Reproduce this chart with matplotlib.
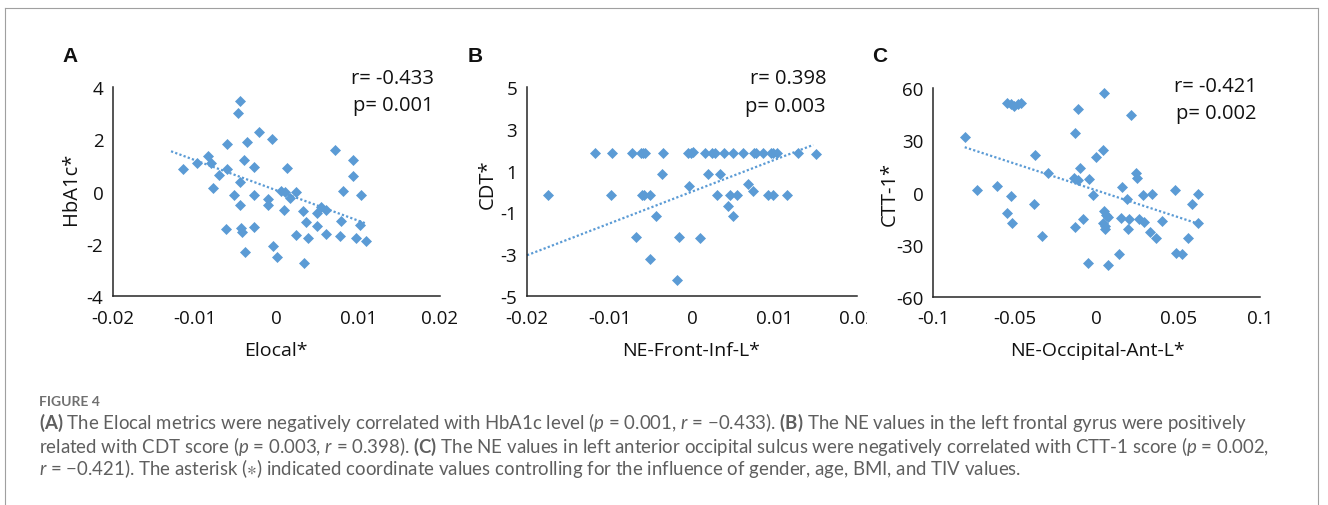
import numpy as np
import matplotlib
matplotlib.use("Agg")
import matplotlib.pyplot as plt
from matplotlib.transforms import Bbox, TransformedBbox

# ---------------- data ----------------
a_x = [-0.0114, -0.0097, -0.0084, -0.0080, -0.0078, -0.0070, -0.0060, -0.0060, -0.0062, -0.0052,
       -0.0045, -0.0047, -0.0045, -0.0045, -0.0044, -0.0042, -0.0040, -0.0038, -0.0036, -0.0028,
       -0.0027, -0.0027, -0.0022, -0.0011, -0.0010, -0.0005, -0.0004, 0.0000, 0.0006, 0.0010,
       0.0009, 0.0013, 0.0016, 0.0024, 0.0024, 0.0033, 0.0034, 0.0036, 0.0039, 0.0049,
       0.0050, 0.0055, 0.0060, 0.0060, 0.0072, 0.0078, 0.0079, 0.0081, 0.0093, 0.0093,
       0.0097, 0.0103, 0.0102, 0.0109]
a_y = [0.86, 1.09, 1.35, 1.08, 0.15, 0.64, 1.81, 0.86, -1.42, -0.12,
       3.45, 2.99, 0.36, -0.50, -1.38, -1.55, 1.21, -2.31, 1.90, 0.95,
       -0.13, -1.37, 2.29, -0.29, -0.51, 2.01, -2.10, -2.51, 0.03, -0.01,
       -0.72, 0.91, -0.24, -0.01, -1.67, -0.73, -2.74, -1.15, -1.79, -1.31,
       -0.81, -0.60, -0.71, -1.64, 1.60, -1.72, -1.14, 0.01, 1.21, 0.58,
       -1.79, -0.14, -1.29, -1.91]

b_x = [-0.01178, -0.00968, -0.00725, -0.00623, -0.00595, -0.00571, -0.00352, -0.00045, -0.00016, 0.00012,
       0.00158, 0.00247, 0.00279, 0.00389, 0.00502, 0.00619, 0.00753, 0.00781, 0.00862, 0.00955,
       0.00984, 0.01028, 0.01287, 0.01502,
       -0.00364, 0.00194, 0.00344,
       -0.01741, -0.00984, -0.00603, -0.00579, -0.00506, 0.00300, 0.00462, 0.00547, 0.00923, 0.00976, 0.01154,
       -0.00032, 0.00680, 0.00740, 0.00441, 0.00498, -0.00437, -0.00680, -0.00154, 0.00100, -0.00506, -0.00182]
b_y = [1.83, 1.83, 1.83, 1.83, 1.83, 1.83, 1.83, 1.83, 1.85, 1.87,
       1.83, 1.83, 1.83, 1.83, 1.83, 1.83, 1.83, 1.83, 1.83, 1.83,
       1.83, 1.83, 1.83, 1.80,
       0.84, 0.84, 0.84,
       -0.18, -0.18, -0.18, -0.18, -0.18, -0.18, -0.18, -0.18, -0.18, -0.18, -0.18,
       0.27, 0.36, 0.04, -0.68, -1.18, -1.18, -2.18, -2.20, -2.23, -3.24, -4.23]

c_x = [-0.0806, -0.0731, -0.0608, -0.0547, -0.0522, -0.0502, -0.0482, -0.0459,
       -0.0522, -0.0547, -0.0514, -0.0384, -0.0378, -0.0331, -0.0296,
       -0.0133, -0.0114, -0.0137, -0.0112, -0.0098, -0.0047, -0.0082, -0.0131, -0.0055, -0.0020,
       -0.0002, 0.0039, 0.0043, 0.0045, 0.0060, 0.0070, 0.0041, 0.0055, 0.0051, 0.0073,
       0.0135, 0.0147, 0.0153, 0.0186, 0.0190, 0.0196, 0.0208, 0.0243, 0.0247, 0.0257,
       0.0282, 0.0290, 0.0327, 0.0341, 0.0361, 0.0398, 0.0478, 0.0486, 0.0524, 0.0559,
       0.0582, 0.0618, 0.0618]
c_y = [32.0, 1.5, 3.6, 51.5, 50.8, 49.8, 50.8, 51.3,
       -2.2, -11.8, -17.6, -6.6, 21.8, -24.9, 11.0,
       34.1, 47.9, 8.2, 7.4, 14.1, 7.8, -15.3, -19.9, -40.6, -1.2,
       20.3, 24.3, 57.3, -10.5, -13.2, -14.0, -17.6, -19.2, -21.0, -41.6,
       -35.4, -14.7, 3.4, -3.9, -21.0, -15.5, 44.3, 11.0, 8.2, -15.3,
       -1.2, -17.2, -22.9, -0.9, -26.2, -16.4, 1.6, -34.5, -35.4, -26.0,
       -6.4, -0.9, -17.4]

# linear trendlines as drawn in the reference (x range and fitted values at the ends)
trend_a_x = [-0.0129, 0.0109]
trend_a_y = [1.54, -1.22]
trend_b_x = [-0.0200, 0.0147]
trend_b_y = [-3.05, 2.23]
trend_c_x = [-0.0806, 0.0618]
trend_c_y = [26.0, -17.8]

a_xticks = [-0.02, -0.01, 0, 0.01, 0.02]
a_xlabels = ["-0.02", "-0.01", "0", "0.01", "0.02"]
a_yticks = [-4, -2, 0, 2, 4]
a_ylabels = ["-4", "-2", "0", "2", "4"]
b_xticks = [-0.02, -0.01, 0, 0.01, 0.02]
b_xlabels = ["-0.02", "-0.01", "0", "0.01", "0.02"]
b_yticks = [-5, -3, -1, 1, 3, 5]
b_ylabels = ["-5", "-3", "-1", "1", "3", "5"]
c_xticks = [-0.1, -0.05, 0, 0.05, 0.1]
c_xlabels = ["-0.1", "-0.05", "0", "0.05", "0.1"]
c_yticks = [-60, -30, 0, 30, 60]
c_ylabels = ["-60", "-30", "0", "30", "60"]

panel_letters = ["A", "B", "C"]
x_titles = ["Elocal*", "NE-Front-Inf-L*", "NE-Occipital-Ant-L*"]
y_titles = ["HbA1c*", "CDT*", "CTT-1*"]
r_texts = ["r= -0.433", "r= 0.398", "r= -0.421"]
p_texts = ["p= 0.001", "p= 0.003", "p= 0.002"]

caption_title = "FIGURE 4"
caption_lines = [
    r"$\mathbf{(A)}$ The Elocal metrics were negatively correlated with HbA1c level ($\mathit{p}$ = 0.001, $\mathit{r}$ = −0.433). $\mathbf{(B)}$ The NE values in the left frontal gyrus were positively",
    r"related with CDT score ($\mathit{p}$ = 0.003, $\mathit{r}$ = 0.398). $\mathbf{(C)}$ The NE values in left anterior occipital sulcus were negatively correlated with CTT-1 score ($\mathit{p}$ = 0.002,",
    r"$\mathit{r}$ = −0.421). The asterisk ($\ast$) indicated coordinate values controlling for the influence of gender, age, BMI, and TIV values.",
]

# ---------------- style ----------------
plt.rcParams["axes.unicode_minus"] = False
plt.rcParams["mathtext.fontset"] = "custom"
plt.rcParams["mathtext.rm"] = "Lato"
plt.rcParams["mathtext.it"] = "Lato:italic"
plt.rcParams["mathtext.bf"] = "Lato:bold"
plt.rcParams["mathtext.fallback"] = "stixsans"

BLUE = "#5B9BD5"
AXC = "#262626"
CHART_FONT = "Open Sans"

W, H = 1328, 506
fig = plt.figure(figsize=(W / 100, H / 100), dpi=100)


def fx(px):
    return px / W


def fy(py):
    return 1 - py / H


def add_ax(l, t, r, b):
    return fig.add_axes([fx(l), fy(b), (r - l) / W, (b - t) / H])


panels = [
    dict(box=(113, 88, 440, 297), x=a_x, y=a_y, tx=trend_a_x, ty=trend_a_y,
         xlim=(-0.02, 0.02), ylim=(-4, 4),
         xt=a_xticks, xl=a_xlabels, yt=a_yticks, yl=a_ylabels,
         letter=(70, 57), xtitle=(276, 351), ytitle=(71, 189), rp=(434, 84, 111)),
    dict(box=(527, 88, 857, 297), x=b_x, y=b_y, tx=trend_b_x, ty=trend_b_y,
         xlim=(-0.02, 0.02), ylim=(-5, 5),
         xt=b_xticks, xl=b_xlabels, yt=b_yticks, yl=b_ylabels,
         letter=(475, 57), xtitle=(691, 351), ytitle=(488, 184), rp=(826, 84, 112)),
    dict(box=(933, 89, 1260, 298), x=c_x, y=c_y, tx=trend_c_x, ty=trend_c_y,
         xlim=(-0.1, 0.1), ylim=(-60, 60),
         xt=c_xticks, xl=c_xlabels, yt=c_yticks, yl=c_ylabels,
         letter=(880, 57), xtitle=(1097, 351), ytitle=(890, 194), rp=(1257, 92, 119)),
]

axes = []
for i, p in enumerate(panels):
    ax = add_ax(*p["box"])
    axes.append(ax)
    ax.set_xlim(*p["xlim"])
    ax.set_ylim(*p["ylim"])
    ax.plot(p["x"], p["y"], linestyle="none", marker="D", ms=4.7, color=BLUE, mec=BLUE, mew=0.5,
            clip_on=False, zorder=3)
    ax.plot(p["tx"], p["ty"], color=BLUE, lw=1.6, linestyle=(0, (1, 1.0)),
            dash_capstyle="butt", zorder=2, clip_on=False)
    for s in ["top", "right"]:
        ax.spines[s].set_visible(False)
    for s in ["left", "bottom"]:
        ax.spines[s].set_color(AXC)
        ax.spines[s].set_linewidth(1.1)
    ax.set_xticks(p["xt"])
    ax.set_xticklabels(p["xl"])
    ax.set_yticks(p["yt"])
    ax.set_yticklabels(p["yl"])
    ax.tick_params(length=0, labelsize=13.5, colors="#111111")
    ax.tick_params(axis="x", pad=9)
    ax.tick_params(axis="y", pad=7)
    for lab in ax.get_xticklabels() + ax.get_yticklabels():
        lab.set_fontfamily(CHART_FONT)
    ax.set_facecolor("none")

    lx, ly = p["letter"]
    fig.text(fx(lx), fy(ly), panel_letters[i], ha="center", va="center",
             fontsize=15, fontweight="bold", family="Liberation Sans", color="#111111")
    tx_, ty_ = p["xtitle"]
    fig.text(fx(tx_), fy(ty_), x_titles[i], ha="center", va="center",
             fontsize=14, family=CHART_FONT, color="#111111")
    yx_, yy_ = p["ytitle"]
    fig.text(fx(yx_), fy(yy_), y_titles[i], ha="center", va="center", rotation=90,
             fontsize=14.5, family=CHART_FONT, color="#111111")
    rx, rb, pb = p["rp"]
    fig.text(fx(rx), fy(rb), r_texts[i], ha="right", va="baseline",
             fontsize=14.5, family=CHART_FONT, color="#111111")
    fig.text(fx(rx), fy(pb), p_texts[i], ha="right", va="baseline",
             fontsize=14.5, family=CHART_FONT, color="#111111")

# clip panel B's last x tick label (it is cut by panel C in the reference)
lastlab = axes[1].get_xticklabels()[-1]
lastlab.set_clip_on(True)
lastlab.set_clip_box(TransformedBbox(Bbox([[0, 0], [867 / W, 1]]), fig.transFigure))

# frame around figure
FR = "#a0a0a0"
fig.add_artist(plt.Line2D([fx(4.5), fx(4.5)], [fy(8.5), fy(510)], color=FR, lw=0.8))
fig.add_artist(plt.Line2D([fx(1317.5), fx(1317.5)], [fy(8.5), fy(510)], color=FR, lw=0.8))
fig.add_artist(plt.Line2D([fx(4.5), fx(1317.5)], [fy(8.5), fy(8.5)], color=FR, lw=0.8))

# caption
CAP_C = "#5f5f5f"
fig.text(fx(39), fy(406), caption_title, ha="left", va="baseline", fontsize=10,
         fontweight="bold", family="Lato", color="#707070")

renderer = fig.canvas.get_renderer()
probe = fig.text(0, 0, caption_lines[0], fontsize=12, family="Lato")
wpx = probe.get_window_extent(renderer).width
probe.remove()
cap_fs = 12 * 1208.0 / wpx

for line, base in zip(caption_lines, [428.5, 452.5, 475.5]):
    fig.text(fx(39), fy(base), line, ha="left", va="baseline", fontsize=cap_fs,
             family="Lato", color=CAP_C)

fig.savefig("out.png", dpi=100)
